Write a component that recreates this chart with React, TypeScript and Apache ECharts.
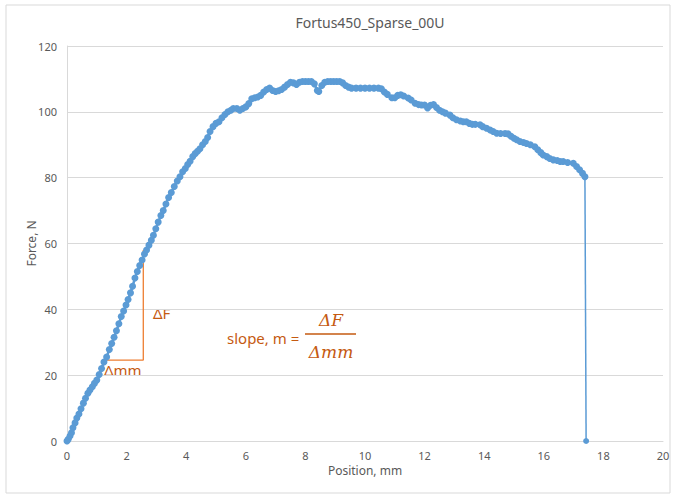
import React, { useEffect, useRef } from "react";
import * as echarts from "echarts";

const positionMm: number[] = [
  0, 0.04, 0.1, 0.15, 0.2, 0.27, 0.33, 0.4, 0.47, 0.55, 0.62, 0.7, 0.77, 0.85, 0.92, 1.0,
  1.08, 1.16, 1.24, 1.33, 1.42, 1.5, 1.58, 1.66, 1.74, 1.82, 1.9, 1.98, 2.05, 2.13, 2.2,
  2.28, 2.36, 2.44, 2.52, 2.6, 2.67, 2.75, 2.83, 2.9, 2.98, 3.06, 3.15, 3.23, 3.32, 3.41,
  3.5, 3.6, 3.7, 3.79, 3.88, 3.97, 4.05, 4.13, 4.22, 4.3, 4.38, 4.46, 4.55, 4.64, 4.72,
  4.8, 4.9, 5.0, 5.1, 5.2, 5.3, 5.4, 5.5, 5.58, 5.7, 5.8, 5.9, 6.0, 6.1, 6.2, 6.3, 6.4,
  6.5, 6.6, 6.7, 6.8, 6.9, 7.0, 7.1, 7.2, 7.3, 7.4, 7.5, 7.6, 7.7, 7.8, 7.9, 8.0, 8.1,
  8.2, 8.3, 8.4, 8.45, 8.55, 8.65, 8.75, 8.85, 8.95, 9.05, 9.15, 9.25, 9.35, 9.45, 9.55,
  9.7, 9.85, 10.0, 10.15, 10.3, 10.45, 10.55, 10.65, 10.75, 10.9, 11.0, 11.1, 11.2, 11.3,
  11.45, 11.55, 11.68, 11.8, 11.9, 12.0, 12.1, 12.2, 12.3, 12.4, 12.5, 12.6, 12.7, 12.85,
  12.95, 13.07, 13.2, 13.3, 13.4, 13.5, 13.6, 13.7, 13.86, 13.95, 14.08, 14.2, 14.3, 14.42,
  14.55, 14.7, 14.8, 14.9, 15.0, 15.09, 15.2, 15.32, 15.42, 15.55, 15.7, 15.8, 15.9, 15.98,
  16.1, 16.2, 16.32, 16.45, 16.55, 16.65, 16.8, 16.99, 17.1, 17.2, 17.3, 17.38, 17.42,
];

const forceN: number[] = [
  0, 0.5, 1.5, 2.5, 4, 5.5, 7, 8.2, 9.8, 11.5, 13, 14.5, 15.5, 16.5, 17.5, 18.5,
  20.2, 22, 24, 25.5, 27.8, 29.6, 31.5, 33.5, 35.6, 37.8, 39.5, 41.3, 43, 45, 47,
  49.5, 51.5, 53.3, 55, 56.8, 58, 59.5, 61, 62.5, 64.5, 66.5, 68.5, 70, 72, 74,
  75.5, 77.3, 79, 80.3, 81.8, 82.8, 84, 85, 86.4, 87.3, 88, 88.8, 90, 91, 92.2,
  94, 95.5, 96.5, 97, 98.2, 99.2, 100, 100.5, 101, 101, 100.5, 101, 101.5, 102.5, 104, 104.3, 104.5,
  105, 106, 106.8, 107.2, 106.5, 106.2, 106.4, 106.8, 107.5, 108.3, 109, 108.8, 108.3, 109, 109.2, 109.2, 109.2,
  109.2, 108.5, 106.5, 106.2, 108, 109, 109.2, 109.2, 109.2, 109.2, 109.2, 108.8, 108, 107.5, 107.2,
  107.2, 107.2, 107.2, 107.2, 107.2, 107.2, 107, 106, 105.3, 104.3, 104.3, 105, 105.2, 104.8,
  104.2, 103.6, 102.6, 102.2, 102.1, 102.1, 101.2, 102, 102.2, 101.3, 100.5, 100, 99.6, 99,
  98.2, 97.6, 97.2, 97, 97, 96.5, 96.2, 96.2, 96.1, 95.5, 95, 94.5, 94, 93.5,
  93.4, 93.4, 93.3, 92.6, 92, 91.5, 91, 90.7, 90.4, 90, 89.4, 88.5, 87.6, 86.9,
  86.4, 85.8, 85.4, 85.2, 84.9, 84.9, 84.6, 84.4, 83.4, 82.4, 81.3, 80.3, 0,
];

const slopeX: number[] = [1.3, 2.56, 2.56];
const slopeY: number[] = [24.6, 24.6, 58];

const titleText = "Fortus450_Sparse_00U";
const xName = "Position, mm";
const yName = "Force, N";

const FONT = "'Noto Sans', sans-serif";
const GREY = "#595959";
const BLUE = "#5B9BD5";
const ORANGE = "#ED7D31";
const ORANGE_TEXT = "#C55A11";

export default function App() {
  const ref = useRef<HTMLDivElement>(null);

  useEffect(() => {
    document.body.style.margin = "0";
    if (!ref.current) return;
    const chart = echarts.init(ref.current, undefined, { renderer: "svg" });
    const curve = positionMm.map((x, i) => [x, forceN[i]]);
    const mainPart = curve.slice(0, -1);
    const dropPart = curve.slice(-2);
    const slope = slopeX.map((x, i) => [x, slopeY[i]]);
    chart.setOption({
      animation: false,
      backgroundColor: "#ffffff",
      title: {
        text: titleText,
        left: 365,
        top: 10,
        textAlign: "center",
        textStyle: { fontFamily: FONT, fontSize: 14, fontWeight: "normal", color: GREY },
      },
      grid: { left: 67, right: 11, top: 46, bottom: 55 },
      xAxis: {
        type: "value",
        min: 0,
        max: 20,
        interval: 2,
        name: xName,
        nameLocation: "middle",
        nameGap: 23,
        nameMoveOverlap: false,
        nameTextStyle: { fontFamily: FONT, fontSize: 12, color: GREY },
        axisLine: { show: true, lineStyle: { color: "#D9D9D9", width: 1 } },
        axisTick: { show: false },
        splitLine: { show: false },
        axisLabel: { fontFamily: FONT, fontSize: 11, color: GREY, margin: 9 },
      },
      yAxis: {
        type: "value",
        min: 0,
        max: 120,
        interval: 20,
        name: yName,
        nameLocation: "middle",
        nameGap: 30,
        nameMoveOverlap: false,
        nameTextStyle: { fontFamily: FONT, fontSize: 12, color: GREY },
        axisLine: { show: true, lineStyle: { color: "#D9D9D9", width: 1 } },
        axisTick: { show: false },
        splitLine: { show: true, lineStyle: { color: "#D9D9D9", width: 1 } },
        axisLabel: { fontFamily: FONT, fontSize: 11, color: GREY, margin: 10 },
      },
      series: [
        {
          type: "line",
          data: dropPart,
          symbol: "circle",
          symbolSize: 6,
          showSymbol: true,
          lineStyle: { color: BLUE, width: 1.5 },
          itemStyle: { color: BLUE },
          z: 3,
        },
        {
          type: "line",
          data: mainPart,
          symbol: "circle",
          symbolSize: 7,
          showSymbol: true,
          showAllSymbol: true,
          lineStyle: { color: BLUE, width: 2.5 },
          itemStyle: { color: BLUE },
          z: 4,
        },
        {
          type: "line",
          data: slope,
          symbol: "none",
          lineStyle: { color: ORANGE, width: 1.3 },
          z: 2,
        },
      ],
      graphic: [
        {
          type: "rect",
          shape: { x: 6, y: 5, width: 664, height: 488 },
          style: { fill: "none", stroke: "#D9D9D9", lineWidth: 1 },
          silent: true,
        },
        {
          type: "text",
          x: 153,
          y: 313,
          style: { text: "ΔF", fontFamily: FONT, fontSize: 15, fill: ORANGE_TEXT, verticalAlign: "middle" },
        },
        {
          type: "text",
          x: 104,
          y: 370,
          style: { text: "Δmm", fontFamily: FONT, fontSize: 15, fill: ORANGE_TEXT, verticalAlign: "middle" },
        },
        {
          type: "text",
          x: 227,
          y: 338,
          style: { text: "slope, m =", fontFamily: FONT, fontSize: 15, fill: ORANGE_TEXT, verticalAlign: "middle" },
        },
        {
          type: "text",
          x: 331,
          y: 320,
          style: {
            text: "ΔF",
            fontFamily: "'DejaVu Serif', serif",
            fontStyle: "italic",
            fontSize: 17,
            fill: ORANGE_TEXT,
            align: "center",
            verticalAlign: "middle",
          },
        },
        {
          type: "line",
          shape: { x1: 305, y1: 334, x2: 356, y2: 334 },
          style: { stroke: ORANGE_TEXT, lineWidth: 1.3 },
        },
        {
          type: "text",
          x: 331,
          y: 352,
          style: {
            text: "Δmm",
            fontFamily: "'DejaVu Serif', serif",
            fontStyle: "italic",
            fontSize: 17,
            fill: ORANGE_TEXT,
            align: "center",
            verticalAlign: "middle",
          },
        },
      ],
    });
    return () => chart.dispose();
  }, []);

  return <div ref={ref} style={{ width: 674, height: 496 }} />;
}
